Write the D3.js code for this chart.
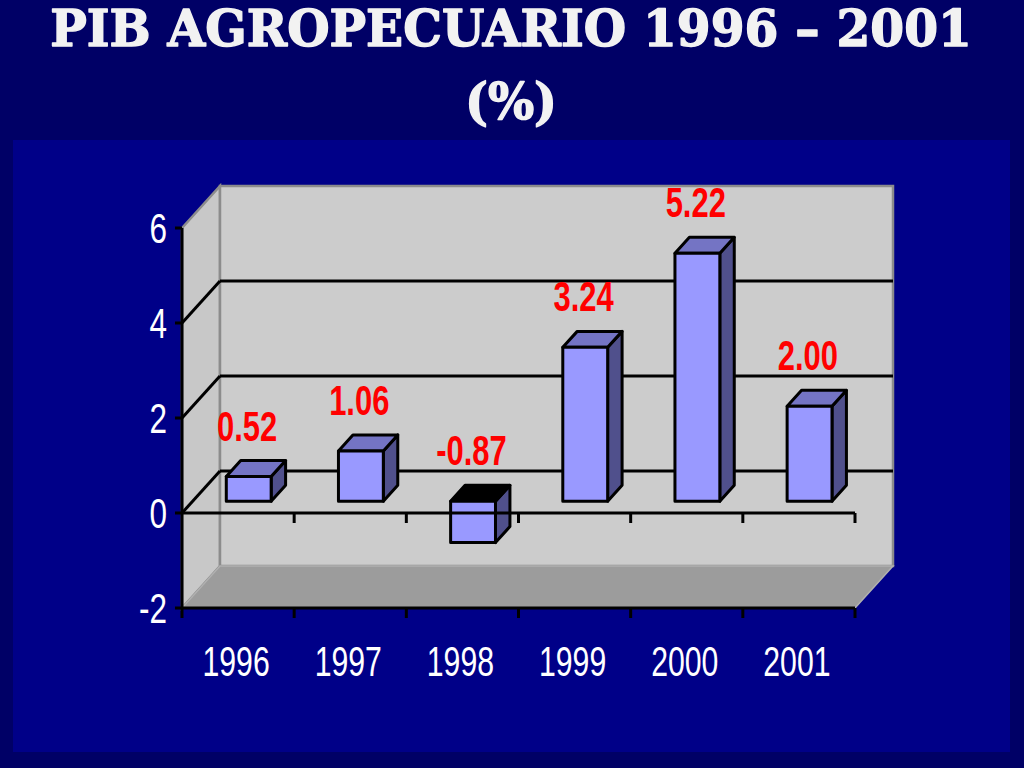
<!DOCTYPE html>
<html>
<head>
<meta charset="utf-8">
<script src="https://cdn.jsdelivr.net/npm/d3@7"></script>
<style>
  html, body { margin: 0; padding: 0; background: #000066; }
  svg { display: block; }
</style>
</head>
<body>
<svg id="chart" width="1024" height="768"></svg>
<script>
// ---- data ----
const years = ["1996", "1997", "1998", "1999", "2000", "2001"];
const values = [0.52, 1.06, -0.87, 3.24, 5.22, 2.00];
const valueLabels = ["0.52", "1.06", "-0.87", "3.24", "5.22", "2.00"];
const yTickValues = [-2, 0, 2, 4, 6];
const gridValues = [0, 2, 4];
const titleLines = ["PIB AGROPECUARIO 1996 \u2013 2001", "(%)"];

// ---- layout ----
const W = 1024, H = 768;
const DX = 38, DY = -42;          // depth offset of back wall
const D0 = 0.28, D1 = 0.66;       // bar depth (fraction)
const svg = d3.select("#chart");

const x = d3.scaleBand().domain(years).range([182, 855]).paddingInner(0.6).paddingOuter(0.3);
const y = d3.scaleLinear().domain([-2, 6]).range([608, 228]);
const step = x.step();
const catStart = d => x(d) - x.paddingOuter() * step;
const yMin = y.domain()[0], yMax = y.domain()[1];
const xL = x.range()[0], xR = x.range()[1];

// background
svg.append("rect").attr("width", W).attr("height", H).attr("fill", "#000066");
svg.append("rect").attr("x", 13).attr("y", 140).attr("width", 997).attr("height", 612).attr("fill", "#000088");

// title
const title = svg.append("g");
titleLines.forEach((t, i) => {
  title.append("text")
    .attr("x", 0).attr("y", 0)
    .attr("transform", `translate(${W / 2 - 1},${46 + i * 73})`)
    .attr("text-anchor", "middle")
    .attr("font-family", "'DejaVu Serif', 'Liberation Serif', serif")
    .attr("font-weight", "bold")
    .attr("font-size", 50)
    .attr("fill", "#f2f2f2")
    .attr("stroke", "#f2f2f2")
    .attr("stroke-width", 1.4)
    .attr("stroke-linejoin", "round")
    .text(t);
});
// fit first line width to reference
{
  const t0 = title.select("text").node();
  const w = t0.getBBox().width;
  const s = 922 / w;
  title.selectAll("text").each(function(_, i) {
    d3.select(this).attr("transform", `translate(${W / 2 - 1},${46 + i * 73}) scale(${s},1)`);
  });
}

const P = (xf, v, d) => [xf + d * DX, y(v) + d * DY];
const pts = arr => arr.map(p => p.join(",")).join(" ");

// left wall
svg.append("polygon")
  .attr("points", pts([P(xL, yMax, 0), P(xL, yMax, 1), P(xL, yMin, 1), P(xL, yMin, 0)]))
  .attr("fill", "#c8c8c8").attr("stroke", "#8c8c8c").attr("stroke-width", 2.5);
// back wall
svg.append("polygon")
  .attr("points", pts([P(xL, yMax, 1), P(xR, yMax, 1), P(xR, yMin, 1), P(xL, yMin, 1)]))
  .attr("fill", "#cccccc").attr("stroke", "#8c8c8c").attr("stroke-width", 2.5);
// floor
svg.append("polygon")
  .attr("points", pts([P(xL, yMin, 0), P(xR, yMin, 0), P(xR, yMin, 1), P(xL, yMin, 1)]))
  .attr("fill", "#9c9c9c").attr("stroke", "#b0b0b0").attr("stroke-width", 1.5);

// gridlines on back and left wall
gridValues.forEach(v => {
  svg.append("line")
    .attr("x1", P(xL, v, 1)[0]).attr("y1", P(xL, v, 1)[1])
    .attr("x2", P(xR, v, 1)[0]).attr("y2", P(xR, v, 1)[1])
    .attr("stroke", "#000").attr("stroke-width", 3);
  svg.append("line")
    .attr("x1", P(xL, v, 0)[0]).attr("y1", P(xL, v, 0)[1])
    .attr("x2", P(xL, v, 1)[0]).attr("y2", P(xL, v, 1)[1])
    .attr("stroke", "#000").attr("stroke-width", 3);
});

// bars
const bw = x.bandwidth();
const dd = D1 - D0;
const bars = svg.append("g");
years.forEach((yr, i) => {
  const v = values[i];
  const x0 = x(yr) + D0 * DX, x1 = x0 + bw;
  const yt = y(Math.max(v, 0)) + D0 * DY;
  const yb = y(Math.min(v, 0)) + D0 * DY;
  const g = bars.append("g").attr("stroke", "#000").attr("stroke-width", 3).attr("stroke-linejoin", "round");
  g.append("polygon")
    .attr("points", pts([[x1, yt], [x1 + dd * DX, yt + dd * DY], [x1 + dd * DX, yb + dd * DY], [x1, yb]]))
    .attr("fill", "#50508c");
  g.append("polygon")
    .attr("points", pts([[x0, yt], [x1, yt], [x1 + dd * DX, yt + dd * DY], [x0 + dd * DX, yt + dd * DY]]))
    .attr("fill", v < 0 ? "#000000" : "#7474c4");
  g.append("rect")
    .attr("x", x0).attr("y", yt).attr("width", bw).attr("height", yb - yt)
    .attr("fill", "#9999ff");
});

// front axis at zero with ticks
const boundaries = years.map(catStart).concat([xR]);
svg.append("line")
  .attr("x1", xL).attr("x2", xR).attr("y1", y(0)).attr("y2", y(0))
  .attr("stroke", "#000").attr("stroke-width", 3);
boundaries.slice(1).forEach(bx => {
  svg.append("line").attr("x1", bx).attr("x2", bx).attr("y1", y(0)).attr("y2", y(0) + 10)
    .attr("stroke", "#000").attr("stroke-width", 3);
});
// bottom axis
svg.append("line")
  .attr("x1", xL).attr("x2", xR).attr("y1", y(yMin)).attr("y2", y(yMin))
  .attr("stroke", "#000").attr("stroke-width", 3);
boundaries.forEach(bx => {
  svg.append("line").attr("x1", bx).attr("x2", bx).attr("y1", y(yMin)).attr("y2", y(yMin) + 10)
    .attr("stroke", "#000").attr("stroke-width", 3);
});
// vertical axis
svg.append("line")
  .attr("x1", xL).attr("x2", xL).attr("y1", y(yMax)).attr("y2", y(yMin))
  .attr("stroke", "#000").attr("stroke-width", 3);
yTickValues.forEach(v => {
  svg.append("line").attr("x1", xL - 7).attr("x2", xL).attr("y1", y(v)).attr("y2", y(v))
    .attr("stroke", "#000").attr("stroke-width", 3);
  svg.append("text")
    .attr("transform", `translate(167,${y(v) + 15}) scale(0.75,1)`)
    .attr("text-anchor", "end")
    .attr("font-family", "'Liberation Sans', Arial, sans-serif")
    .attr("font-size", 42)
    .attr("fill", "#ffffff")
    .text(v);
});

// category labels
years.forEach(yr => {
  svg.append("text")
    .attr("transform", `translate(${catStart(yr) + step / 2 - 2},676) scale(0.72,1)`)
    .attr("text-anchor", "middle")
    .attr("font-family", "'Liberation Sans', Arial, sans-serif")
    .attr("font-size", 42)
    .attr("fill", "#ffffff")
    .text(yr);
});

// value labels
years.forEach((yr, i) => {
  const v = values[i];
  const cx = x(yr) + bw / 2 + 9;
  const by = y(Math.max(v, 0)) + D1 * DY - 20;
  svg.append("text")
    .attr("transform", `translate(${cx},${by}) scale(0.72,1)`)
    .attr("text-anchor", "middle")
    .attr("font-family", "'Liberation Sans', Arial, sans-serif")
    .attr("font-weight", "bold")
    .attr("font-size", 43)
    .attr("fill", "#ff0000")
    .text(valueLabels[i]);
});
</script>
</body>
</html>
